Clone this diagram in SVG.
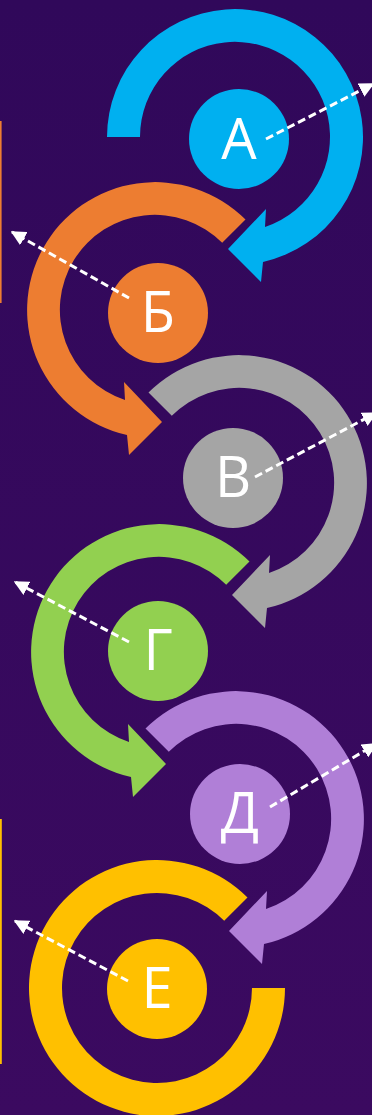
<svg xmlns="http://www.w3.org/2000/svg" width="372" height="1115" viewBox="0 0 372 1115">
<defs>
<linearGradient id="bg" x1="0" y1="0" x2="0" y2="1">
<stop offset="0" stop-color="#30085A"/>
<stop offset="1" stop-color="#3B0A60"/>
</linearGradient>
<marker id="ah" viewBox="0 0 10 10" refX="9" refY="5" markerWidth="5" markerHeight="5" orient="auto" markerUnits="strokeWidth">
<path d="M0,0 L10,5 L0,10 Z" fill="#FFFFFF"/>
</marker>
<style>
.lbl{font-family:"Open Sans","Noto Sans","Liberation Sans",sans-serif;font-size:56px;fill:#FFFFFF;text-anchor:middle}
.dash{stroke:#FFFFFF;stroke-width:3;stroke-dasharray:8 4;fill:none;marker-end:url(#ah)}
.a{fill:#00B0F0}.b{fill:#ED7D31}.v{fill:#A5A5A5}.g{fill:#92D050}.d{fill:#B07FD7}.e{fill:#FFC000}
</style>
</defs>
<rect x="0" y="0" width="372" height="1115" fill="url(#bg)"/>
<rect x="0" y="121" width="1.6" height="182" class="b"/>
<rect x="0" y="819" width="1.8" height="245" class="e"/>

<g id="node-A">
<path class="a" d="M107,137 A128,128 0 1 1 263,262 L261,282 L228,249 L266,209 L265,227 A95,95 0 1 0 140,137 Z"/>
<circle class="a" cx="239" cy="139" r="50"/>
<text class="lbl" x="239" y="159">А</text>
</g>
<g id="node-B">
<path class="b" d="M245.5,219.5 A128,128 0 1 0 127,435 L129,455 L162,422 L124,382 L125,400 A95,95 0 1 1 222.2,242.8 Z"/>
<circle class="b" cx="158" cy="313" r="50"/>
<text class="lbl" x="158" y="332">Б</text>
</g>
<g id="node-V">
<path class="v" d="M148.5,392.5 A128,128 0 1 1 267,608 L265,628 L232,595 L270,555 L269,573 A95,95 0 1 0 171.8,415.8 Z"/>
<circle class="v" cx="233" cy="478" r="50"/>
<text class="lbl" x="233" y="497">В</text>
</g>
<g id="node-G">
<path class="g" d="M249.5,561.5 A128,128 0 1 0 131,777 L133,797 L166,764 L128,724 L129,742 A95,95 0 1 1 226.2,584.8 Z"/>
<circle class="g" cx="158" cy="651" r="50"/>
<text class="lbl" x="158" y="670">Г</text>
</g>
<g id="node-D">
<path class="d" d="M145.5,728.5 A128,128 0 1 1 264,944 L262,964 L229,931 L267,891 L266,909 A95,95 0 1 0 168.8,751.8 Z"/>
<circle class="d" cx="240" cy="814" r="50"/>
<text class="lbl" x="240" y="833">Д</text>
</g>
<g id="node-E">
<path class="e" d="M247.5,897.5 A128,128 0 1 0 285,988 L252,988 A95,95 0 1 1 224.2,920.8 Z"/>
<circle class="e" cx="157" cy="989" r="50"/>
<text class="lbl" x="157" y="1008">Е</text>
</g>

<g id="connectors">
<line class="dash" x1="266" y1="139" x2="373" y2="84"/>
<line class="dash" x1="129" y1="298" x2="12" y2="232"/>
<line class="dash" x1="255" y1="477" x2="376" y2="413"/>
<line class="dash" x1="129" y1="642" x2="15" y2="582"/>
<line class="dash" x1="270" y1="807" x2="376" y2="744"/>
<line class="dash" x1="128" y1="981" x2="15" y2="921"/>
</g>
</svg>
